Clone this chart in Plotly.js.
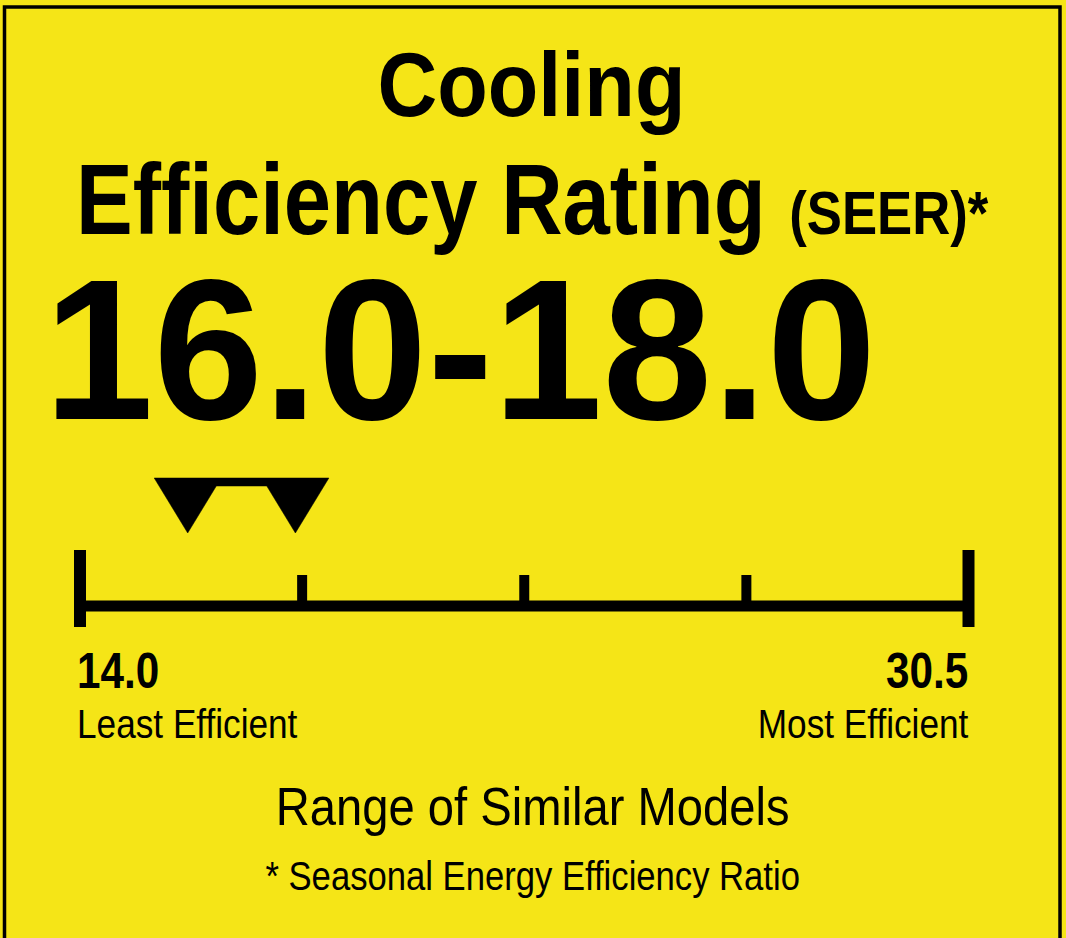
<!DOCTYPE html>
<html>
<head>
<meta charset="utf-8">
<script src="https://cdn.plot.ly/plotly-3.0.1.min.js"></script>
<style>
  html, body { margin: 0; padding: 0; background: #F5E517; }
  #chart { width: 1066px; height: 938px; }
  #chart text { font-variant-ligatures: none; }
</style>
</head>
<body>
<div id="chart"></div>
<script>
// ---- data ----
var titleLines = ["Cooling", "Efficiency Rating", "(SEER)*"];
var scaleMin = 14.0;
var scaleMax = 30.5;
var rangeLow = 16.0;
var rangeHigh = 18.0;
var scaleDivisions = 4;
var endLabels = ["Least Efficient", "Most Efficient"];
var captionLines = ["Range of Similar Models", "* Seasonal Energy Efficiency Ratio"];

// ---- layout constants ----
var W = 1066, H = 938;
var YELLOW = "#F5E517";
var FONT = "Liberation Sans, Arial, Helvetica, sans-serif";
var leftPx = 80, rightPx = 968.5;
var pxPerUnit = (rightPx - leftPx) / (scaleMax - scaleMin);
var x0 = scaleMin - leftPx / pxPerUnit;
var x1 = x0 + W / pxPerUnit;
function px(p) { return p / pxPerUnit; }

var lineY = 606;
var tallTop = 550, tallBot = 627;
var shortTop = 575;
var triTop = 478, triTip = 533, barBot = 486, triHalf = 33.5;

// scale baseline
var baseline = {
  x: [scaleMin, scaleMax], y: [lineY, lineY],
  mode: "lines", line: {color: "#000", width: 11}, hoverinfo: "skip"
};
// end ticks
var endTicks = {
  x: [scaleMin, scaleMin, null, scaleMax, scaleMax],
  y: [tallTop, tallBot, null, tallTop, tallBot],
  mode: "lines", line: {color: "#000", width: 12}, hoverinfo: "skip"
};
// inner ticks
var tx = [], ty = [];
for (var i = 1; i < scaleDivisions; i++) {
  var v = scaleMin + (scaleMax - scaleMin) * i / scaleDivisions;
  tx.push(v, v, null); ty.push(shortTop, lineY, null);
}
var innerTicks = {
  x: tx, y: ty, mode: "lines", line: {color: "#000", width: 10}, hoverinfo: "skip"
};
// range marker (two down triangles joined by a bar)
var dx = px(triHalf);
var k = (triTip - barBot) / (triTip - triTop);
var marker = {
  x: [rangeLow - dx, rangeHigh + dx, rangeHigh, rangeHigh - dx * k, rangeLow + dx * k, rangeLow, rangeLow - dx],
  y: [triTop, triTop, triTip, barBot, barBot, triTip, triTop],
  mode: "lines", fill: "toself", fillcolor: "#000",
  line: {color: "#000", width: 0.5}, hoverinfo: "skip"
};

var ann = [];
var squeeze = [];
function A(o, sx) { o.showarrow = false; ann.push(o); squeeze.push(sx); }
A({xref: "paper", yref: "y", x: 531 / W, y: 85, xanchor: "center", yanchor: "middle",
   text: "<b>" + titleLines[0] + "</b>", font: {family: FONT, size: 90, color: "#000"}}, 0.92);
A({xref: "paper", yref: "y", x: 74 / W, y: 199, xanchor: "left", yanchor: "middle",
   text: "<b>" + titleLines[1] + " <span style='font-size:62px'>" + titleLines[2] + "</span></b>",
   font: {family: FONT, size: 100, color: "#000"}}, 0.85);
A({xref: "paper", yref: "y", x: 42 / W, y: 349, xanchor: "left", yanchor: "middle",
   text: "<b>" + rangeLow.toFixed(1) + "-" + rangeHigh.toFixed(1) + "</b>",
   font: {family: FONT, size: 200, color: "#000"}}, 0.985);
A({xref: "x", yref: "y", x: scaleMin, xshift: -5, y: 671, xanchor: "left", yanchor: "middle",
   text: "<b>" + scaleMin.toFixed(1) + "</b>", font: {family: FONT, size: 50, color: "#000"}}, 0.845);
A({xref: "x", yref: "y", x: scaleMax, xshift: 1, y: 671, xanchor: "right", yanchor: "middle",
   text: "<b>" + scaleMax.toFixed(1) + "</b>", font: {family: FONT, size: 50, color: "#000"}}, 0.845);
A({xref: "x", yref: "y", x: scaleMin, xshift: -5, y: 724, xanchor: "left", yanchor: "middle",
   text: endLabels[0], font: {family: FONT, size: 40, color: "#000"}}, 0.88);
A({xref: "x", yref: "y", x: scaleMax, xshift: 1, y: 724, xanchor: "right", yanchor: "middle",
   text: endLabels[1], font: {family: FONT, size: 40, color: "#000"}}, 0.88);
A({xref: "paper", yref: "y", x: 532 / W, y: 806, xanchor: "center", yanchor: "middle",
   text: captionLines[0], font: {family: FONT, size: 53, color: "#000"}}, 0.89);
A({xref: "paper", yref: "y", x: 532 / W, y: 876, xanchor: "center", yanchor: "middle",
   text: captionLines[1], font: {family: FONT, size: 40, color: "#000"}}, 0.866);

var layout = {
  width: W, height: H,
  margin: {l: 0, r: 0, t: 0, b: 0},
  paper_bgcolor: YELLOW, plot_bgcolor: YELLOW,
  showlegend: false,
  xaxis: {range: [x0, x1], visible: false, fixedrange: true},
  yaxis: {range: [H, 0], visible: false, fixedrange: true},
  annotations: ann,
  shapes: [{
    type: "path", xref: "paper", yref: "paper",
    path: "M " + (4.5 / W) + " " + (-0.05) + " L " + (4.5 / W) + " " + (1 - 7 / H) +
          " L " + (1060 / W) + " " + (1 - 7 / H) + " L " + (1060 / W) + " " + (-0.05),
    line: {color: "#000", width: 3.5}
  }]
};

Plotly.newPlot("chart", [baseline, endTicks, innerTicks, marker], layout, {staticPlot: true, displayModeBar: false})
.then(function (gd) {
  // condense the label lettering horizontally (narrow sans look), keeping each anchor fixed
  var groups = gd.querySelectorAll(".annotation");
  groups.forEach(function (g) {
    var idx = +g.getAttribute("data-index");
    var sx = squeeze[idx];
    var t = g.querySelector("text.annotation-text");
    if (!t || !sx) return;
    var bb = t.getBBox();
    var xa = ann[idx].xanchor;
    var cx = xa === "left" ? bb.x : (xa === "right" ? bb.x + bb.width : bb.x + bb.width / 2);
    var prev = t.getAttribute("transform") || "";
    t.setAttribute("transform", "translate(" + cx + ",0) scale(" + sx + ",1) translate(" + (-cx) + ",0) " + prev);
  });
});
</script>
</body>
</html>
